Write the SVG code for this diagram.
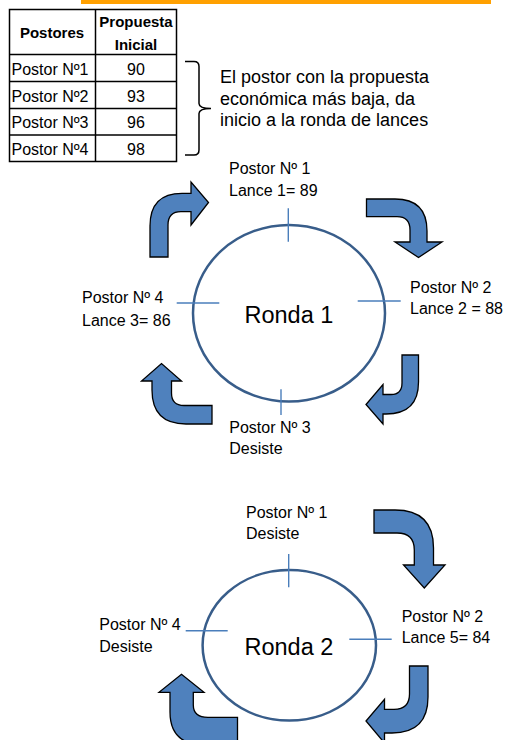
<svg xmlns="http://www.w3.org/2000/svg" width="505" height="740" viewBox="0 0 505 740">
<defs>
<style>
text{font-family:"Liberation Sans",Arial,sans-serif;fill:#000}
.cell{fill:#fff;stroke:#000;stroke-width:1.5}
.th{font-size:15px;font-weight:bold;text-anchor:middle}
.td{font-size:16px}
.num{font-size:16px;text-anchor:middle}
.note{font-size:18px}
.lbl{font-size:16px}
.ronda{font-size:23.5px}
.ring{fill:none;stroke:#385D8A;stroke-width:2.5}
.tick{stroke:#4A7EBB;stroke-width:1.4;fill:none}
.arrow{fill:#4F81BD;stroke:#000;stroke-width:1.3;stroke-linejoin:miter}
</style>
</defs>
<rect x="81" y="0" width="410" height="4" fill="#FFA000"/>

<g id="table">
<rect class="cell" x="9.5" y="9.5" width="167" height="152"/>
<line class="cell" x1="95.5" y1="9.5" x2="95.5" y2="161.5"/>
<line class="cell" x1="9.5" y1="54.5" x2="176.5" y2="54.5"/>
<line class="cell" x1="9.5" y1="81.5" x2="176.5" y2="81.5"/>
<line class="cell" x1="9.5" y1="108.5" x2="176.5" y2="108.5"/>
<line class="cell" x1="9.5" y1="135" x2="176.5" y2="135"/>
<text class="th" x="52" y="38">Postores</text>
<text class="th" x="136" y="27">Propuesta</text>
<text class="th" x="136" y="50">Inicial</text>
<text class="td" x="11.5" y="75">Postor Nº1</text>
<text class="td" x="11.5" y="101.5">Postor Nº2</text>
<text class="td" x="11.5" y="128">Postor Nº3</text>
<text class="td" x="11.5" y="155">Postor Nº4</text>
<text class="num" x="136" y="75">90</text>
<text class="num" x="136" y="101.5">93</text>
<text class="num" x="136" y="128">96</text>
<text class="num" x="136" y="155">98</text>
</g>

<g id="note">
<path d="M185,61.5 L194,61.5 Q199,61.5 199,66.5 L199,103.5 Q199,108.5 211,108.5 Q199,108.5 199,113.5 L199,150 Q199,155 194,155 L185,155" fill="none" stroke="#000" stroke-width="1.5"/>
<text class="note" x="220" y="83.3">El postor con la propuesta</text>
<text class="note" x="220" y="104.8">económica más baja, da</text>
<text class="note" x="220" y="126.3">inicio a la ronda de lances</text>
</g>

<g id="ronda1">
<ellipse class="ring" cx="289" cy="313.3" rx="96" ry="88.3"/>
<text class="ronda" x="244.5" y="322.7">Ronda 1</text>
</g>
<g id="r1-postor1">
<line class="tick" x1="288.3" y1="208.3" x2="288.3" y2="241.7"/>
<text class="lbl" x="229" y="174">Postor Nº 1</text>
<text class="lbl" x="229" y="196">Lance 1= 89</text>
</g>
<g id="r1-postor2">
<line class="tick" x1="357.7" y1="301" x2="400.7" y2="301"/>
<text class="lbl" x="410" y="292.5">Postor Nº 2</text>
<text class="lbl" x="410" y="314">Lance 2 = 88</text>
</g>
<g id="r1-postor3">
<line class="tick" x1="281" y1="389.3" x2="281" y2="415"/>
<text class="lbl" x="229.3" y="432.7">Postor Nº 3</text>
<text class="lbl" x="229.3" y="454.3">Desiste</text>
</g>
<g id="r1-postor4">
<line class="tick" x1="176.7" y1="303" x2="219.3" y2="303"/>
<text class="lbl" x="82" y="302.7">Postor Nº 4</text>
<text class="lbl" x="82" y="326">Lance 3= 86</text>
</g>

<g id="ronda2">
<ellipse class="ring" cx="289.3" cy="645.3" rx="86.7" ry="75.3"/>
<text class="ronda" x="244.5" y="655">Ronda 2</text>
</g>
<g id="r2-postor1">
<line class="tick" x1="288.7" y1="554" x2="288.7" y2="587.3"/>
<text class="lbl" x="246" y="517.7">Postor Nº 1</text>
<text class="lbl" x="246" y="539.3">Desiste</text>
</g>
<g id="r2-postor2">
<line class="tick" x1="349.3" y1="639.3" x2="391.7" y2="639.3"/>
<text class="lbl" x="401.7" y="621.7">Postor Nº 2</text>
<text class="lbl" x="401.7" y="643.3">Lance 5= 84</text>
</g>
<g id="r2-postor4">
<line class="tick" x1="185.7" y1="630.7" x2="227.7" y2="630.7"/>
<text class="lbl" x="99.3" y="630">Postor Nº 4</text>
<text class="lbl" x="99.3" y="651.7">Desiste</text>
</g>

<g id="connectors">
<path class="arrow" d="M150,257 L150,226 Q150,193.3 182,193.3 L191,193.3 L191,182 L208.5,202.5 L191,225 L191,211.7 L181,211.7 Q168,211.7 168,225 L168,257 Z"/>
<path class="arrow" d="M366.5,199 L395,199 Q427,199 427,231 L427,242 L442,242 L418.5,257.5 L395,242 L410,242 L410,230 Q410,216.7 397,216.7 L366.5,216.7 Z"/>
<path class="arrow" d="M402,355 L418.5,355 L418.5,382 Q418.5,414 386,414 L383,414 L383,424 L366,404.5 L383,384.5 L383,394.5 L391,394.5 Q402,394.5 402,383 Z"/>
<path class="arrow" d="M212,405.5 L212,424 L186,424 Q152,424 152,390 L152,381 L141.5,381 L161.5,363.5 L181.5,381 L171.5,381 L171.5,393 Q171.5,405.5 184,405.5 Z"/>
<path class="arrow" d="M374,510 L395,510 Q433.5,510 433.5,548 L433.5,565 L445,565 L424.3,588 L403.5,565 L414.3,565 L414.3,550 Q414.3,533 397,533 L374,533 Z"/>
<path class="arrow" d="M409.5,666 L428,666 L428,697 Q428,733 392,733 L384.5,733 L384.5,743 L366,721 L384.5,699.3 L384.5,709.3 L394,709.3 Q409.5,709.3 409.5,694 Z"/>
<path class="arrow" d="M237.5,717.3 L237.5,745 L205,745 Q170,745 170,712 L170,692.3 L159,692.3 L181.5,674.3 L204,692.3 L193.3,692.3 L193.3,705 Q193.3,717.3 208,717.3 Z"/>
</g>
</svg>
